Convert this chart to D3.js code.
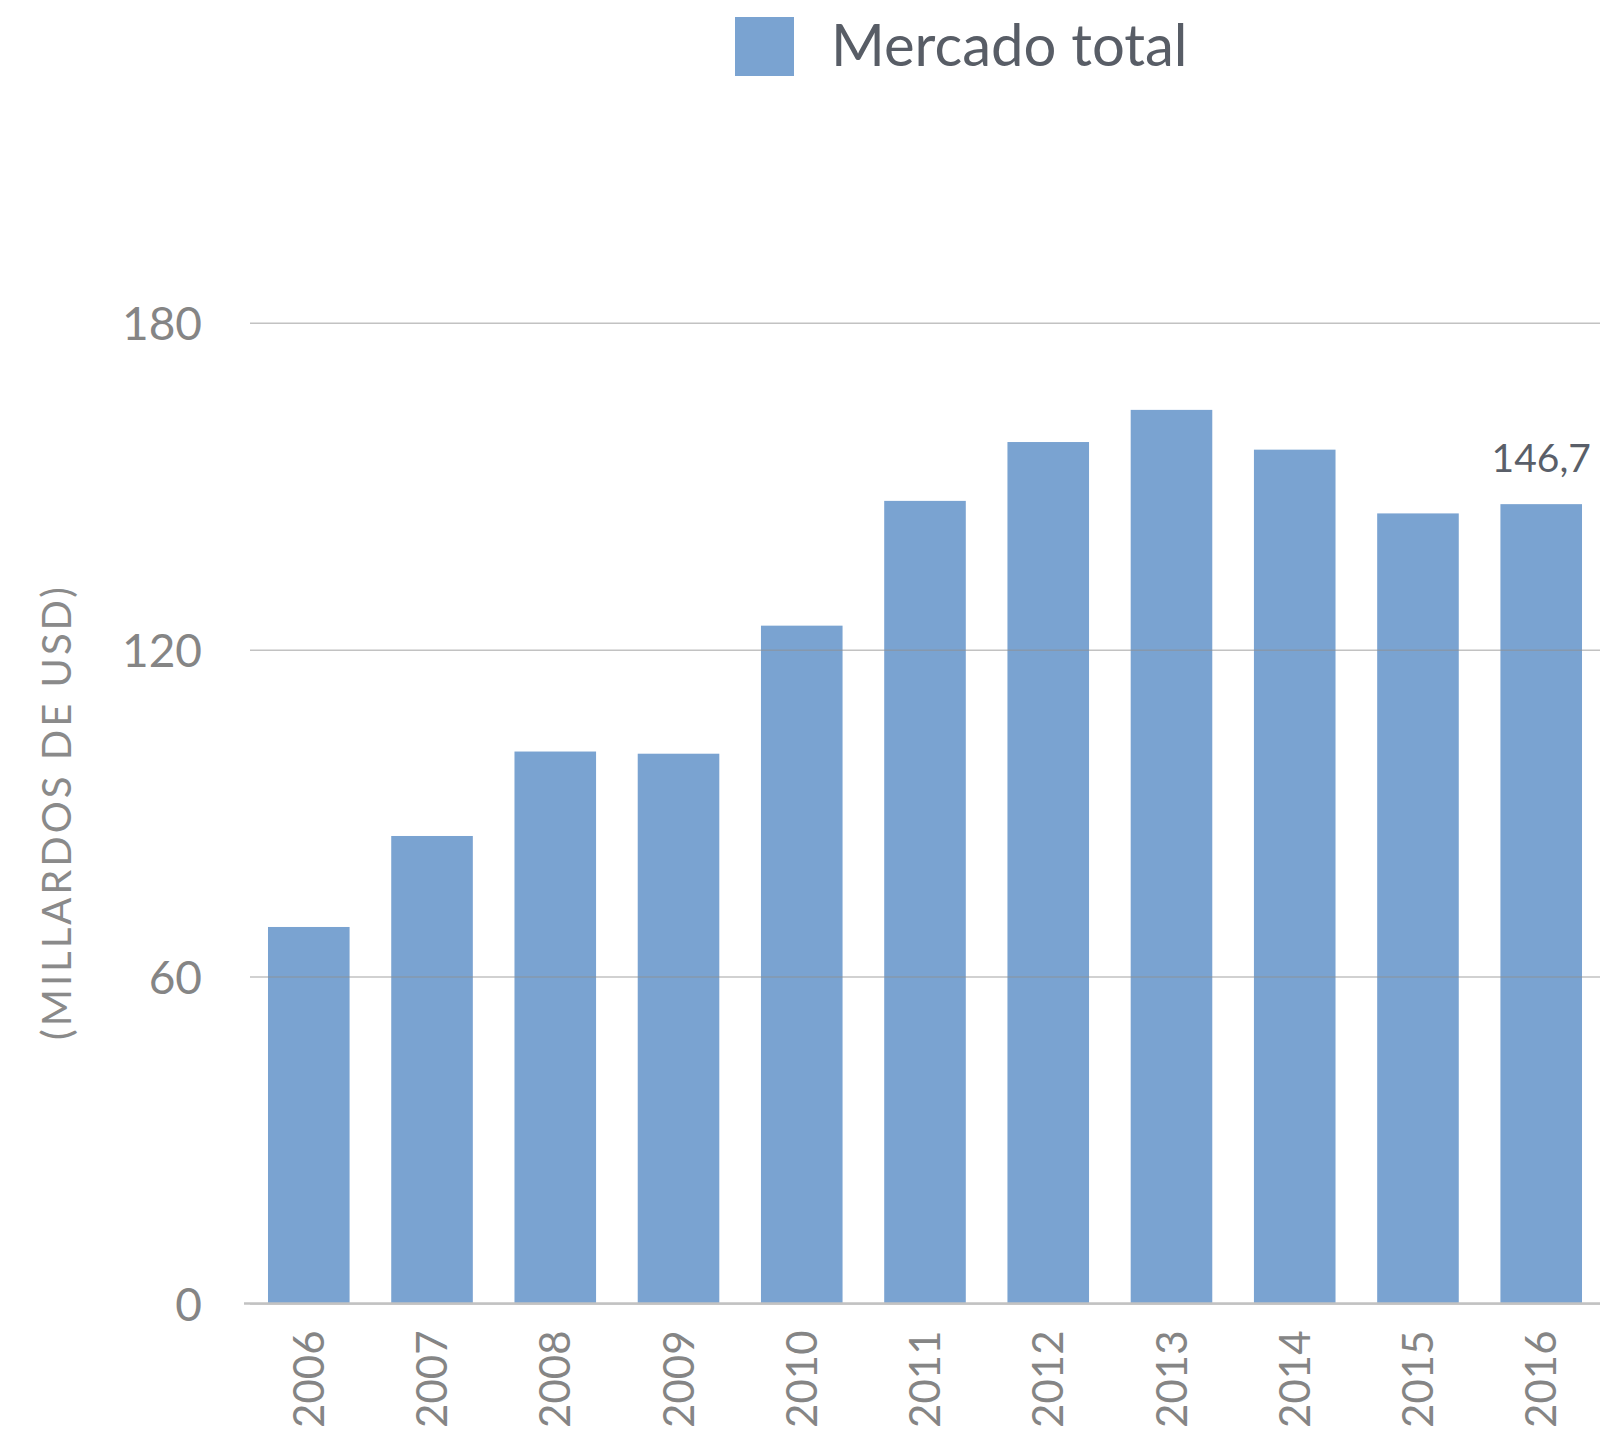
<!DOCTYPE html>
<html>
<head>
<meta charset="utf-8">
<script src="https://cdn.jsdelivr.net/npm/d3@7"></script>
<style>
  body { margin: 0; background: #fff; }
  text { font-family: Lato, "Open Sans", sans-serif; }
</style>
</head>
<body>
<div id="chart"></div>
<script>

// data
let years = ["2006", "2007", "2008", "2009", "2010", "2011", "2012", "2013", "2014", "2015", "2016"]
let mercadoTotal = [69.1, 85.8, 101.3, 100.9, 124.4, 147.3, 158.1, 164.0, 156.7, 145.0, 146.7]
let yTicks = [0, 60, 120, 180]
let seriesName = "Mercado total"
let yTitle = "(MILLARDOS DE USD)"

let width = 1600, height = 1431
let margin = {top: 322.7, right: 0, bottom: 127.5, left: 250}

let svg = d3.select("#chart").append("svg")
    .attr("width", width)
    .attr("height", height)

let x = d3.scaleBand()
    .domain(years)
    .range([margin.left, width - margin.right])
    .paddingInner(0.338)
    .paddingOuter(0.146)

let y = d3.scaleLinear()
    .domain([0, 180])
    .range([height - margin.bottom, margin.top])

let barColor = "#7aa3d1"

// bars
svg.selectAll(".bar").data(mercadoTotal)
    .enter()
    .append("rect")
    .attr("class", "bar")
    .attr("x", (d, i) => x(years[i]))
    .attr("width", x.bandwidth())
    .attr("y", d => y(d))
    .attr("height", d => y(0) - y(d))
    .attr("fill", barColor)

// gridlines (drawn over the bars)
let yAxis = d3.axisLeft(y)
    .tickValues(yTicks)
    .tickSize(-(width - margin.left - margin.right))
    .tickPadding(48)
    .tickFormat(d3.format("d"))

let gy = svg.append("g")
    .attr("transform", "translate(" + margin.left + ",0)")
    .call(yAxis)

gy.select(".domain").remove()
gy.selectAll(".tick line")
    .attr("stroke", "#8f8f8f")
    .attr("stroke-opacity", 0.55)
    .attr("stroke-width", 1.5)
gy.selectAll(".tick text")
    .attr("fill", "#858585")
    .attr("font-size", 46)
    .attr("dy", "0.36em")

// baseline
svg.append("line")
    .attr("x1", margin.left - 6)
    .attr("x2", width)
    .attr("y1", y(0))
    .attr("y2", y(0))
    .attr("stroke", "#c2c2c2")
    .attr("stroke-width", 2.5)

// x labels, rotated
svg.selectAll(".year-label").data(years)
    .enter()
    .append("text")
    .attr("class", "year-label")
    .attr("transform", d => "translate(" + (x(d) + x.bandwidth() / 2) + "," + (y(0) + 27) + ") rotate(-90)")
    .attr("text-anchor", "end")
    .attr("dy", "0.36em")
    .attr("fill", "#858585")
    .attr("font-size", 42)
    .text(d => d)

// value label on last bar
let last = years.length - 1
svg.append("text")
    .attr("x", x(years[last]) + x.bandwidth() / 2)
    .attr("y", y(mercadoTotal[last]) - 32)
    .attr("text-anchor", "middle")
    .attr("fill", "#5a5f69")
    .attr("font-size", 39)
    .text(d3.format(".1f")(mercadoTotal[last]).replace(".", ","))

// y title
svg.append("text")
    .attr("transform", "translate(71,812) rotate(-90)")
    .attr("text-anchor", "middle")
    .attr("fill", "#8a8a8a")
    .attr("font-size", 40)
    .attr("letter-spacing", 3)
    .text(yTitle)

// legend
svg.append("rect")
    .attr("x", 735)
    .attr("y", 17)
    .attr("width", 59)
    .attr("height", 59)
    .attr("fill", barColor)

svg.append("text")
    .attr("x", 831)
    .attr("y", 66)
    .attr("fill", "#585d66")
    .attr("font-size", 58)
    .text(seriesName)

</script>
</body>
</html>
